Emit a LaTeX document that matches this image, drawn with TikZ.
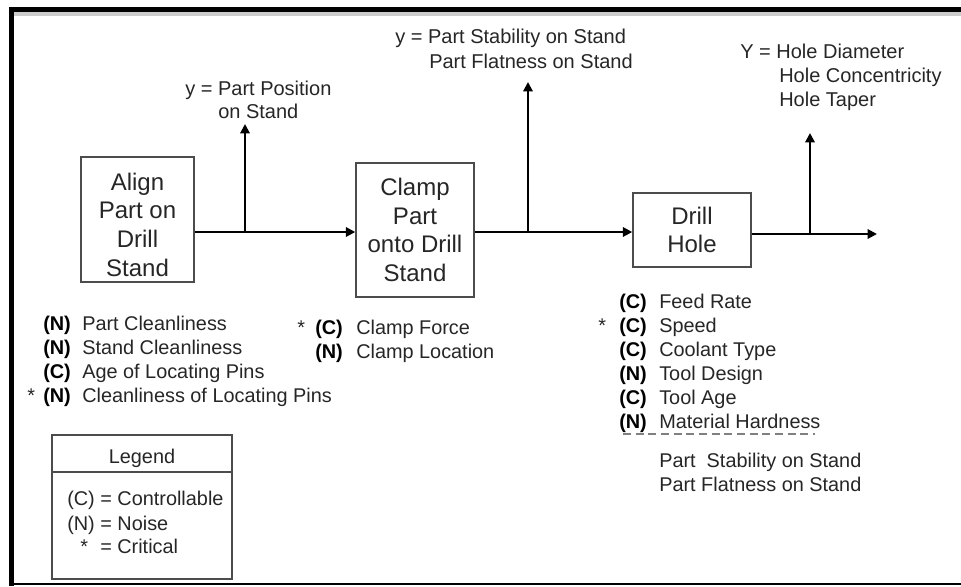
\documentclass[tikz,border=0pt]{standalone}
\usepackage{fontspec}
\setmainfont{Liberation Sans}
\usetikzlibrary{arrows.meta}

\tikzset{
  stepbox/.style={draw=black!70,line width=1.1pt,align=center,inner sep=0pt,
    font=\fontsize{18}{21.5}\selectfont,text=black!85},
  flow/.style={line width=1.5pt,-{Triangle[length=7pt,width=7pt]}},
  txt/.style={anchor=base west,inner sep=0pt,font=\fontsize{14.9}{18}\selectfont,text=black!85},
  tag/.style={anchor=base west,inner sep=0pt,font=\fontsize{14.9}{18}\selectfont\bfseries},
  outtxt/.style={anchor=base west,inner sep=0pt,font=\fontsize{15}{18}\selectfont,text=black!85}
}

\begin{document}
\begin{tikzpicture}[x=.75pt,y=-.75pt]
\useasboundingbox (0,0) rectangle (961,586);
% frame
\draw[black!20,line width=2.5pt] (14,14)--(961,14);
\draw[line width=3.75pt] (9,9.5)--(961,9.5);
\draw[line width=3.75pt] (11.5,7)--(11.5,586);
\draw[line width=2pt] (9,584)--(961,584);
% process steps
\node[stepbox,minimum width=84.75pt,minimum height=93.75pt] (alignpart) at (137.5,219.5) {\rule{0pt}{20.5pt}Align\\Part on\\Drill\\Stand};
\node[stepbox,minimum width=88.5pt,minimum height=100.5pt] (clamppart) at (415,230) {Clamp\\Part\\onto Drill\\Stand};
\node[stepbox,minimum width=88.5pt,minimum height=55.5pt] (drillhole) at (692,230) {Drill\\Hole};
% flow and outputs
\coordinate (j1) at (245,232);
\coordinate (y1) at (245,124);
\coordinate (j2) at (528,232);
\coordinate (y2) at (528,82);
\coordinate (j3) at (810,234);
\coordinate (y3) at (810,133);
\coordinate (yend) at (877,234);
\draw[flow] (alignpart.east |- j1)--(clamppart.west |- j1);
\draw[flow] (j1)--(y1);
\draw[flow] (clamppart.east |- j2)--(drillhole.west |- j2);
\draw[flow] (j2)--(y2);
\draw[flow] (drillhole.east |- j3)--(yend);
\draw[flow] (j3)--(y3);
\node[outtxt] (ya1) at (185,95) {y = Part Position};
\node[outtxt] (ya2) at (218,118) {on Stand};
\node[outtxt] (yb1) at (395,43) {y = Part Stability on Stand};
\node[outtxt] (yb2) at (429,68) {Part Flatness on Stand};
\node[outtxt] (yc1) at (740,58) {Y = Hole Diameter};
\node[outtxt] (yc2) at (779,82) {Hole Concentricity};
\node[outtxt] (yc3) at (779,106) {Hole Taper};
% inputs
\foreach \t/\s [count=\i] in {N/Part Cleanliness,N/Stand Cleanliness,C/Age of Locating Pins,N/Cleanliness of Locating Pins}{
  \node[tag] (atag\i) at (43,{306+24*\i}) {(\t)};
  \node[txt] (ain\i) at (82,{306+24*\i}) {\s};}
\node[txt] (acrit) at (27,402) {*};
\foreach \t/\s [count=\i] in {C/Clamp Force,N/Clamp Location}{
  \node[tag] (btag\i) at (315,{310+24*\i}) {(\t)};
  \node[txt] (bin\i) at (356,{310+24*\i}) {\s};}
\node[txt] (bcrit) at (297,334) {*};
\foreach \t/\s [count=\i] in {C/Feed Rate,C/Speed,C/Coolant Type,N/Tool Design,C/Tool Age,N/Material Hardness}{
  \node[tag] (ctag\i) at (619,{284+24*\i}) {(\t)};
  \node[txt] (cin\i) at (659,{284+24*\i}) {\s};}
\node[txt] (ccrit) at (598,332) {*};
\coordinate (dl) at (623,434);
\coordinate (dr) at (815,434);
\draw[black!50,line width=1pt,dash pattern=on 6pt off 3.5pt] (dl)--(dr);
\node[txt] (cx1) at (659,467) {Part\ \ Stability on Stand};
\node[txt] (cx2) at (659,491) {Part Flatness on Stand};
% legend
\node[draw=black!70,line width=1.1pt,minimum width=135pt,minimum height=108pt,inner sep=0pt] (legend) at (142,507) {};
\coordinate (lghd) at (142,472);
\draw[black!70,line width=1.1pt] (legend.west |- lghd)--(legend.east |- lghd);
\node[txt,anchor=base] (lgtitle) at (142,463) {Legend};
\node[txt] (lgc) at (67,505) {(C) = Controllable};
\node[txt] (lgn) at (67,530) {(N) = Noise};
\node[txt] (lgs) at (80,553) {*};
\node[txt] (lgcrit) at (100,553) {= Critical};
\end{tikzpicture}
\end{document}
